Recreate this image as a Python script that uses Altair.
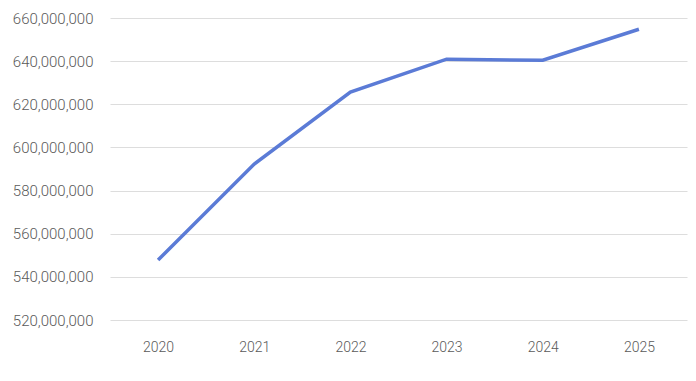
import altair as alt
import pandas as pd

years = ["2020", "2021", "2022", "2023", "2024", "2025"]
values = [547800000, 592300000, 625700000, 640900000, 640400000, 654800000]

df = pd.DataFrame({"year": years, "value": values})

chart = alt.Chart(df).mark_line(color="#5b7bd6", strokeWidth=3.5).encode(
    x=alt.X("year:O", sort=years, title=None,
            scale=alt.Scale(type="point", padding=0.5),
            axis=alt.Axis(labelAngle=0, ticks=False, domain=False, grid=False,
                          labelPadding=20, labelFontSize=14, labelColor="#5a5a5a",
                          labelFont="Roboto", labelFontWeight=300)),
    y=alt.Y("value:Q", title=None,
            scale=alt.Scale(domain=[520000000, 660000000], nice=False, zero=False),
            axis=alt.Axis(values=list(range(520000000, 660000001, 20000000)),
                          format=",d", ticks=False, domain=False, grid=True,
                          gridColor="#dddddd", labelPadding=17, labelFontSize=15,
                          labelColor="#5a5a5a", labelFont="Roboto", labelFontWeight=300)),
).properties(
    width=577, height=302,
    autosize=alt.AutoSizeParams(type="none"),
    padding={"left": 110, "top": 18, "right": 9, "bottom": 61},
).configure_view(stroke=None)

chart.save("out.html", embed_options={"renderer": "svg", "actions": False})
